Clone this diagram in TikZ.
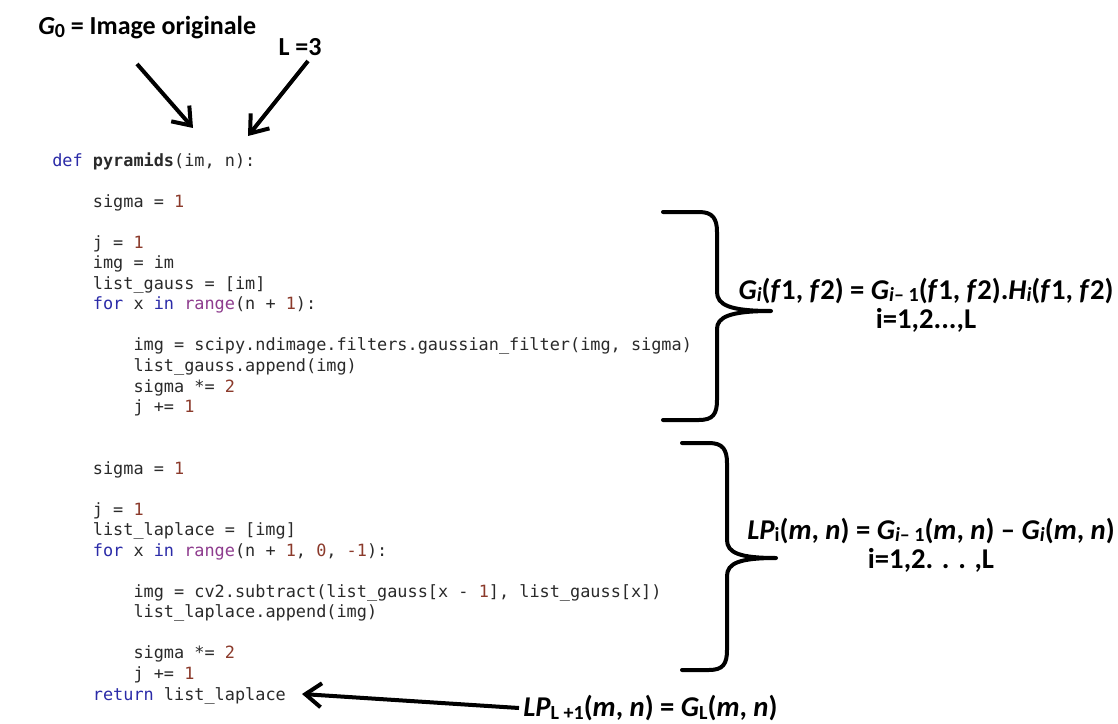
\documentclass[tikz,border=0pt]{standalone}
\usepackage{fontspec}
\setmainfont{Carlito}
\newfontfamily\codefont{DejaVu Sans Mono}
\usetikzlibrary{arrows.meta,positioning}
\definecolor{pykeyword}{HTML}{2B2BA8}
\definecolor{pybuiltin}{HTML}{8E3C8E}
\definecolor{pynumber}{HTML}{8B3A2B}
\definecolor{pytext}{HTML}{2A2A2A}

% syntax colouring for the listing
\newcommand{\kw}[1]{\textcolor{pykeyword}{#1}}
\newcommand{\bi}[1]{\textcolor{pybuiltin}{#1}}
\newcommand{\nb}[1]{\textcolor{pynumber}{#1}}
\newcommand{\tb}{\phantom{0000}}
% small index set on the baseline
\newcommand{\idx}[1]{\raisebox{-0.2ex}{\fontsize{15}{15}\selectfont #1}}

\begin{document}
\begin{tikzpicture}[
  x=0.75pt, y=-0.75pt,
  codeblock/.style={
    anchor=base west,
    align=left,
    inner sep=0pt,
    text=pytext,
    font=\codefont\fontsize{12.65}{15.4}\selectfont
  },
  eqlabel/.style={
    align=center,
    inner sep=3pt,
    font=\bfseries\fontsize{21.5}{22}\selectfont
  },
  inputlabel/.style={
    eqlabel,
    font=\bfseries\fontsize{19.5}{20}\selectfont
  },
  bigarrow/.style={
    line width=3pt,
    -{Straight Barb[length=12pt,width=18pt]}
  },
  codebrace/.style={
    line width=3pt,
    line cap=round,
    line join=round
  }
]
  \useasboundingbox (0,0) rectangle (1118,724);
  \fill[white] (0,0) rectangle (1118,724);

  % Inputs of the function
  \node[inputlabel, anchor=west] (orig) at (34,28) {\textit{G}\idx{0} = Image originale};
  \node[inputlabel] (levels) at (300,47) {L =3};
  \coordinate (origTail) at (137,64);
  \coordinate (imArg) at (193,128);
  \coordinate (levelsTail) at (308,61);
  \coordinate (nArg) at (248,136);
  \draw[bigarrow] (origTail) -- (imArg);
  \draw[bigarrow] (levelsTail) -- (nArg);

  % Python listing (anchored on the baseline of its last line)
  \node[codeblock] (code) at (52,700) {%
    \kw{def} \textbf{pyramids}(im, n):\\
    ~\\
    \tb sigma = \nb{1}\\
    ~\\
    \tb j = \nb{1}\\
    \tb img = im\\
    \tb list\_gauss = [im]\\
    \tb \kw{for} x \kw{in} \bi{range}(n + \nb{1}):\\
    ~\\
    \tb\tb img = scipy.ndimage.filters.gaussian\_filter(img, sigma)\\
    \tb\tb list\_gauss.append(img)\\
    \tb\tb sigma *= \nb{2}\\
    \tb\tb j += \nb{1}\\
    ~\\
    ~\\
    \tb sigma = \nb{1}\\
    ~\\
    \tb j = \nb{1}\\
    \tb list\_laplace = [img]\\
    \tb \kw{for} x \kw{in} \bi{range}(n + \nb{1}, \nb{0}, \nb{-1}):\\
    ~\\
    \tb\tb img = cv2.subtract(list\_gauss[x - \nb{1}], list\_gauss[x])\\
    \tb\tb list\_laplace.append(img)\\
    ~\\
    \tb\tb sigma *= \nb{2}\\
    \tb\tb j += \nb{1}\\
    \tb \kw{return} list\_laplace};

  % Gaussian part
  \draw[codebrace] (663,212) -- (699,212) .. controls (713,212) and (717,219) .. (717,232)
    -- (717,292) .. controls (717,305) and (730,311) .. (771,311)
    .. controls (730,311) and (717,317) .. (717,329)
    -- (717,400) .. controls (717,414) and (713,420) .. (699,420) -- (663,420);
  \node[eqlabel] (gauss_eq) at (926,305) {%
    \textit{G}\idx{\textit{i}}(\textit{f}1, \textit{f}2) = \textit{G}\idx{\textit{i}– 1}(\textit{f}1, \textit{f}2).\textit{H}\idx{\textit{i}}(\textit{f}1, \textit{f}2)\\
    i=1,2...,L};

  % Laplacian part
  \draw[codebrace] (682,443) -- (709,443) .. controls (723,443) and (727,450) .. (727,463)
    -- (727,540) .. controls (727,553) and (740,558) .. (776,558)
    .. controls (740,558) and (727,563) .. (727,576)
    -- (727,650) .. controls (727,664) and (723,670) .. (709,670) -- (682,670);
  \node[eqlabel] (lapl_eq) at (931,545) {%
    \textit{LP}\idx{i}(\textit{m}, \textit{n}) = \textit{G}\idx{\textit{i}– 1}(\textit{m}, \textit{n}) – \textit{G}\idx{\textit{i}}(\textit{m}, \textit{n})\\
    i=1,2. . . ,L};

  % Last level of the pyramid
  \node[eqlabel, anchor=west] (last_eq) at (519,708) {%
    \textit{LP}\idx{L +1}(\textit{m}, \textit{n}) = \textit{G}\idx{L}(\textit{m}, \textit{n})};
  \coordinate (retEnd) at (302,694);
  \draw[bigarrow] (last_eq.west) -- (retEnd);

\end{tikzpicture}
\end{document}
